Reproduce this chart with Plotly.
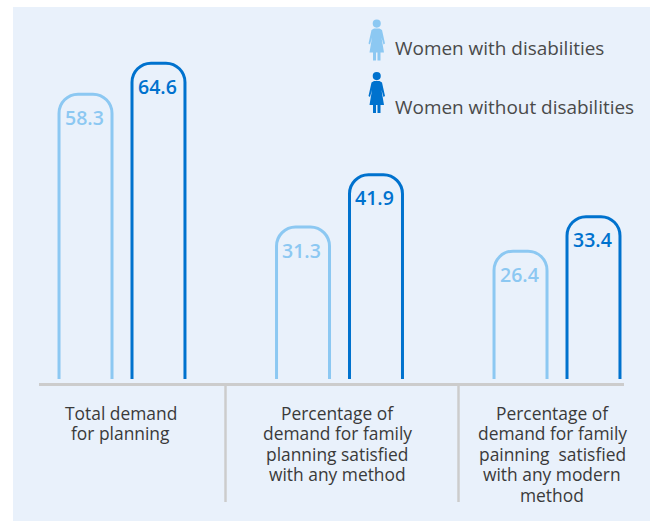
import plotly.graph_objects as go

W, H = 652, 521
categories = [0, 1, 2]
with_dis = [58.3, 31.3, 26.4]
without_dis = [64.6, 41.9, 33.4]
tick_lines = [["Total demand", "for planning"],
              ["Percentage of", "demand for family", "planning satisfied", "with any method"],
              ["Percentage of", "demand for family", "painning\u00a0 satisfied", "with any modern", "method"]]
label_positions = [-0.005, 0.99, 1.978]
series_names = ["Women with disabilities", "Women without disabilities"]

LIGHT, DARK = "#8CC8F2", "#0072CE"
PANEL, AXIS, TXT = "#E9F1FB", "#CCCCCC", "#3A3A3A"
FONT = "Open Sans"

L, R, T, B = 40, 624, 20, 379
px_per_unit = 4.92
y0 = 0.41

def px(x): return (x - L) / (R - L)
def py(y): return (B - y) / (B - T)

fig = go.Figure()
for name, vals, col in [(series_names[0], with_dis, LIGHT), (series_names[1], without_dis, DARK)]:
    fig.add_bar(x=categories, y=vals, name=name,
                marker=dict(color=PANEL, cornerradius=19, line=dict(color=col, width=3)), showlegend=False)

annots = []
for i, c in enumerate(categories):
    annots.append(dict(x=c, y=with_dis[i], xref="x", yref="y", text=str(with_dis[i]), showarrow=False,
                       xshift=-38, yshift=-23, font=dict(color=LIGHT, size=19.5, family=FONT, weight=600)))
    annots.append(dict(x=c, y=without_dis[i], xref="x", yref="y", text=str(without_dis[i]), showarrow=False,
                       xshift=35, yshift=-23, font=dict(color=DARK, size=19.5, family=FONT, weight=600)))
    for j, line in enumerate(tick_lines[i]):
        annots.append(dict(x=label_positions[i], y=py(412.5 + 20.55 * j), xref="x", yref="paper", text=line,
                           yanchor="middle", showarrow=False, font=dict(color=TXT, size=17.4, family=FONT)))
for name, ypos in zip(series_names, [48, 107]):
    annots.append(dict(x=px(392.5), y=py(ypos), xref="paper", yref="paper", xanchor="left", yanchor="middle",
                       text=name, showarrow=False, font=dict(color="#4A4A4A", size=18.95, family=FONT)))

def person(x0, ytop, col):
    # x0 = left of icon, ytop = top of head
    def P(pts):
        return "M" + " L".join(f"{px(x0 + a):.5f},{py(ytop + b):.5f}" for a, b in pts) + " Z"
    body = [(6, 9), (11.5, 9), (14, 10.5), (17, 24), (15.5, 25), (13.5, 18), (16, 33), (12.5, 33),
            (12.5, 41), (9.5, 41), (9.5, 33), (8, 33), (8, 41), (5, 41), (5, 33), (1.5, 33), (4, 18),
            (2, 25), (0.5, 24), (3.5, 10.5)]
    return [dict(type="circle", xref="paper", yref="paper", x0=px(x0 + 4.7), x1=px(x0 + 12.8),
                 y0=py(ytop), y1=py(ytop + 8.2), fillcolor=col, line_width=0, layer="above"),
            dict(type="path", path=P(body), xref="paper", yref="paper", fillcolor=col, line_width=0, layer="above")]

shapes = [
    dict(type="rect", xref="paper", yref="paper", x0=px(13), x1=px(650), y0=py(H), y1=py(7), fillcolor=PANEL, line_width=0, layer="below"),
    dict(type="line", xref="paper", yref="paper", x0=px(39), x1=px(624), y0=py(384.5), y1=py(384.5), line=dict(color=AXIS, width=3)),
    dict(type="line", xref="paper", yref="paper", x0=px(225.5), x1=px(225.5), y0=py(384), y1=py(502), line=dict(color=AXIS, width=2.5)),
    dict(type="line", xref="paper", yref="paper", x0=px(458.5), x1=px(458.5), y0=py(384), y1=py(502), line=dict(color=AXIS, width=2.5)),
] + person(368, 19.5, LIGHT) + person(368, 72, DARK)

fig.update_layout(
    width=W, height=H, margin=dict(l=L, r=W - R, t=T, b=H - B),
    paper_bgcolor="white", plot_bgcolor="rgba(0,0,0,0)",
    barmode="group", bargap=0.329, bargroupgap=0.274,
    font=dict(family=FONT, color=TXT, size=16),
    annotations=annots, shapes=shapes,
    xaxis=dict(range=[-0.377, 2.308], tickmode="array", tickvals=categories, showticklabels=False,
               showgrid=False, zeroline=False, showline=False, ticks=""),
    yaxis=dict(range=[y0, y0 + (B - T) / px_per_unit], visible=False, showgrid=False, zeroline=False),
)
fig.write_html("out.html", config={"displayModeBar": False},
               post_script="document.body.style.margin='0';document.documentElement.style.overflow='hidden';")
